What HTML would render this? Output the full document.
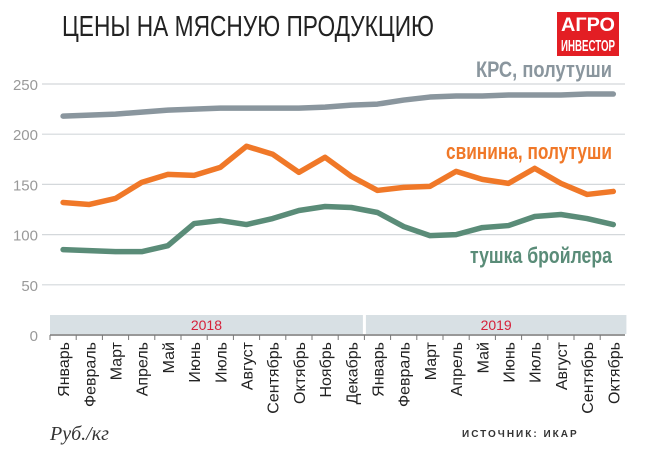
<!DOCTYPE html>
<html><head><meta charset="utf-8"><style>
body{margin:0;background:#fff;}
svg{display:block;font-family:"Liberation Sans Narrow","Liberation Sans",sans-serif;}
</style></head><body>
<svg id="c" width="647" height="453" viewBox="0 0 647 453">
<text x="62" y="36" font-size="29" fill="#222" font-weight="300" textLength="372" lengthAdjust="spacingAndGlyphs">ЦЕНЫ НА МЯСНУЮ ПРОДУКЦИЮ</text>
<g>
<rect x="557" y="12" width="62" height="44" fill="#e31e24"/>
<text x="588" y="31" font-size="19" font-weight="bold" fill="#fff" text-anchor="middle" textLength="54" lengthAdjust="spacingAndGlyphs">АГРО</text>
<text x="588" y="51" font-size="16" font-weight="bold" fill="#fff" text-anchor="middle" textLength="54" lengthAdjust="spacingAndGlyphs">ИНВЕСТОР</text>
</g>
<g id="grid"></g>
<g id="band"></g>
<g id="lines"></g>
<text x="612" y="77" font-size="22" font-weight="bold" fill="#8a969e" text-anchor="end" textLength="136" lengthAdjust="spacingAndGlyphs">КРС, полутуши</text>
<text x="612" y="159" font-size="22" font-weight="bold" fill="#f07828" text-anchor="end" textLength="166" lengthAdjust="spacingAndGlyphs">свинина, полутуши</text>
<text x="612" y="263" font-size="22" font-weight="bold" fill="#5a8c78" text-anchor="end" textLength="142" lengthAdjust="spacingAndGlyphs">тушка бройлера</text>
<text x="50" y="440" font-size="20" font-style="italic" fill="#333" font-family="Liberation Serif, serif">Руб./кг</text>
<text x="462" y="437" font-size="10" font-weight="bold" fill="#333" letter-spacing="2">ИСТОЧНИК: ИКАР</text>
</svg>
<script>
const months=["Январь","Февраль","Март","Апрель","Май","Июнь","Июль","Август","Сентябрь","Октябрь","Ноябрь","Декабрь","Январь","Февраль","Март","Апрель","Май","Июнь","Июль","Август","Сентябрь","Октябрь"];
const years=["2018","2019"];
const yTicks=[0,50,100,150,200,250];
const krs=[218,219,220,222,224,225,226,226,226,226,227,229,230,234,237,238,238,239,239,239,240,240];
const pork=[132,130,136,152,160,159,167,188,180,162,177,158,144,147,148,163,155,151,166,151,140,143];
const broiler=[85,84,83,83,89,111,114,110,116,124,128,127,122,108,99,100,107,109,118,120,116,110];
const NS="http://www.w3.org/2000/svg";
const x0=50,step=26.2;
const X=i=>x0+step*(i+0.5);
const Y=v=>335-v*(251/250);
function mk(t,a,p){const e=document.createElementNS(NS,t);for(const k in a)e.setAttribute(k,a[k]);p.appendChild(e);return e;}
const g=document.getElementById('grid');
yTicks.forEach(v=>{
 if(v>0){const l=mk('line',{x1:42,x2:625,y1:Y(v),y2:Y(v),stroke:'#d4d8db','stroke-width':1.2},g);
 
 }
 const t=mk('text',{x:38,y:Y(v)+6,'font-size':15,fill:'#999','text-anchor':'end'},g);t.textContent=v;
 
 
});
const b=document.getElementById('band');
years.forEach((yr,k)=>{
 const s=k*12,n=k==0?12:months.length-12;
 const xa=x0+step*s+(k?1.5:0),xb=x0+step*(s+n)-(k?0:1.5);
 const r=mk('rect',{x:xa,y:315,width:xb-xa,height:19,fill:'#d8e0e4'},b);
 
 
 const t=mk('text',{x:(xa+xb)/2,y:330,'font-size':14,fill:'#d6203a','text-anchor':'middle'},b);t.textContent=yr;
 
 
});
const ax=mk('line',{x1:x0,x2:625,y1:335,y2:335,stroke:'#777','stroke-width':1.5},b);


months.forEach((m,i)=>{
 const tk=mk('line',{x1:x0+step*i,x2:x0+step*i,y1:335,y2:340,stroke:'#777'},b);
 
 
 const t=mk('text',{transform:`translate(${X(i)+6},342) rotate(-90)`,'font-size':16,fill:'#222','text-anchor':'end'},b);t.textContent=m;
 
 
});
const L=document.getElementById('lines');
[[krs,'#8a969e','line-krs'],[pork,'#f07828','line-pork'],[broiler,'#5a8c78','line-broiler']].forEach(([d,c,n])=>{
 const p=mk('polyline',{points:d.map((v,i)=>X(i)+','+Y(v)).join(' '),fill:'none',stroke:c,'stroke-width':5.5,'stroke-linejoin':'round','stroke-linecap':'round'},L);
 
 
});
</script>
</body></html>
